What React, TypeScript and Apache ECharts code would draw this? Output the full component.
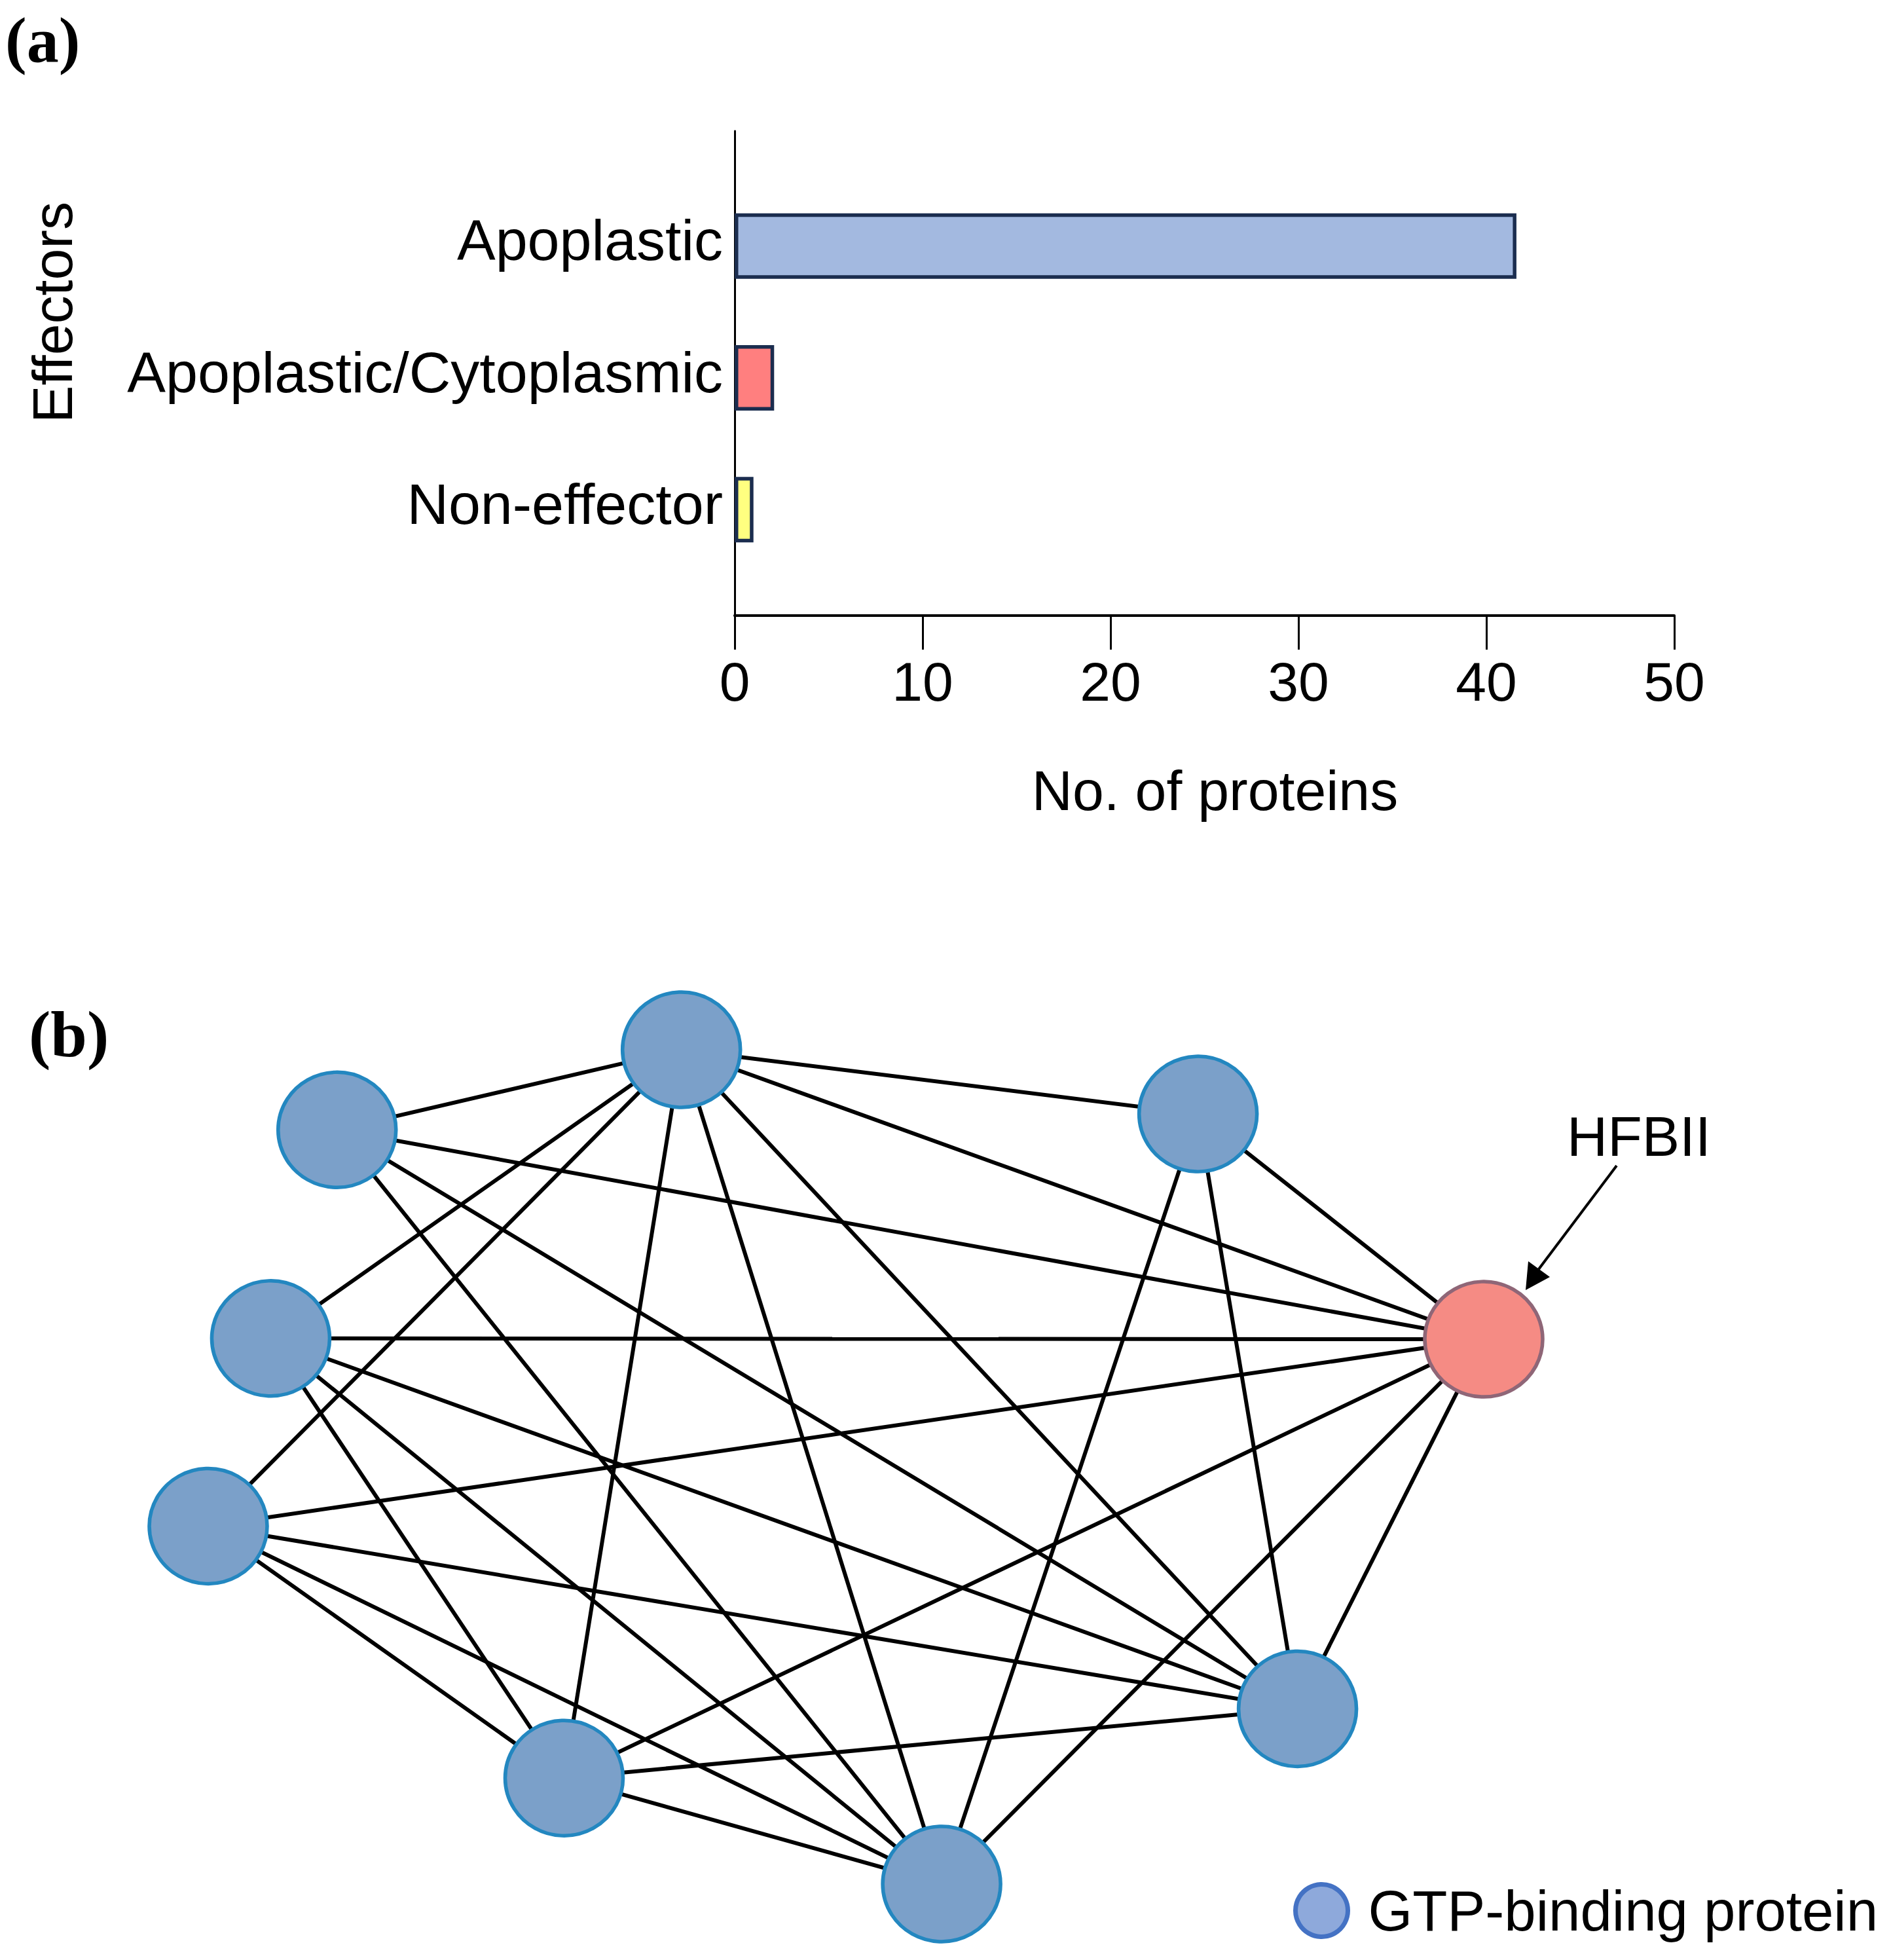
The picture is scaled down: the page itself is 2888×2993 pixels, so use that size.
import React, { useEffect, useRef } from "react";
import * as echarts from "echarts";

// ---------- Panel (a): bar chart data ----------
const categories = ["Apoplastic", "Apoplastic/Cytoplasmic", "Non-effector"];
const proteinCounts = [41.6, 2.1, 1];
const barColors = ["#A3B9E0", "#FF7F7F", "#FFFF80"];
const xAxisMin = 0;
const xAxisMax = 50;
const xAxisInterval = 10;

// ---------- Panel (b): network data ----------
const nodeNames = ["GTP1", "GTP2", "GTP3", "GTP4", "HFBII", "GTP5", "GTP6", "GTP7", "GTP8"];
const nodeX = [37.1, 10.1, 77.6, 4.9, 100, 0, 85.4, 27.9, 57.5];
const nodeY = [0, 9.6, 7.7, 34.6, 34.7, 57.1, 79.0, 87.3, 100];
const nodeCategory = [0, 0, 0, 0, 1, 0, 0, 0, 0];
const nodeCategories = ["GTP-binding protein", "HFBII"];
const edges: [string, string][] = [
  ["GTP1", "GTP2"], ["GTP1", "GTP3"], ["GTP1", "GTP4"], ["GTP1", "HFBII"],
  ["GTP1", "GTP5"], ["GTP1", "GTP6"], ["GTP1", "GTP7"], ["GTP1", "GTP8"],
  ["GTP2", "HFBII"], ["GTP2", "GTP6"], ["GTP2", "GTP8"],
  ["GTP3", "HFBII"], ["GTP3", "GTP6"], ["GTP3", "GTP8"],
  ["GTP4", "HFBII"], ["GTP4", "GTP6"], ["GTP4", "GTP7"], ["GTP4", "GTP8"],
  ["HFBII", "GTP5"], ["HFBII", "GTP6"], ["HFBII", "GTP7"], ["HFBII", "GTP8"],
  ["GTP5", "GTP6"], ["GTP5", "GTP7"], ["GTP5", "GTP8"],
  ["GTP6", "GTP7"], ["GTP7", "GTP8"],
];

const SANS = "'Liberation Sans', Arial, sans-serif";
const SERIF = "'Liberation Serif', 'Times New Roman', serif";

function buildOption(): any {
  const nodeData = nodeNames.map((name, i) => ({
    name,
    value: [nodeX[i], nodeY[i]],
    category: nodeCategory[i],
    itemStyle:
      nodeCategory[i] === 1
        ? { color: "#F58B84", borderColor: "#8F6677", borderWidth: 5.5 }
        : { color: "#7BA0C9", borderColor: "#2387C0", borderWidth: 5.5 },
  }));

  return {
    animation: false,
    backgroundColor: "#ffffff",
    textStyle: { fontFamily: SANS, color: "#000" },
    grid: [
      { left: 1122, top: 200, width: 1435, height: 740, containLabel: false },
      { left: 1122, top: 275, width: 1435, height: 604, containLabel: false },
      { left: 318, top: 1603, width: 1948, height: 1274, containLabel: false },
    ],
    xAxis: [
      {
        gridIndex: 0,
        type: "value",
        min: xAxisMin,
        max: xAxisMax,
        interval: xAxisInterval,
        name: "No. of proteins",
        nameLocation: "middle",
        nameGap: 224,
        nameTextStyle: { fontSize: 86, color: "#000", fontFamily: SANS, padding: [0, 0, 0, 32] },
        axisLine: { show: true, onZero: false, lineStyle: { color: "#000", width: 4 } },
        axisTick: { show: true, length: 52, lineStyle: { color: "#000", width: 3 } },
        axisLabel: { show: true, fontSize: 84, margin: 59, color: "#000", fontFamily: SANS },
        splitLine: { show: false },
      },
      { gridIndex: 1, type: "value", min: xAxisMin, max: xAxisMax, show: false },
      { gridIndex: 2, type: "value", min: 0, max: 100, show: false },
    ],
    yAxis: [
      {
        gridIndex: 0,
        type: "value",
        min: 0,
        max: 1,
        axisLine: { show: true, onZero: false, lineStyle: { color: "#000", width: 3 } },
        axisTick: { show: false },
        axisLabel: { show: false },
        splitLine: { show: false },
      },
      {
        gridIndex: 1,
        type: "category",
        inverse: true,
        data: categories,
        axisLine: { show: false },
        axisTick: { show: false },
        axisLabel: {
          show: true,
          fontSize: 88,
          margin: 18,
          color: "#000",
          fontFamily: SANS,
          verticalAlign: "bottom",
          lineHeight: 18,
        },
        splitLine: { show: false },
      },
      { gridIndex: 2, type: "value", min: 0, max: 100, inverse: true, show: false },
    ],
    legend: {
      show: true,
      left: 1975,
      top: 2874,
      padding: 0,
      orient: "horizontal",
      selectedMode: false,
      itemWidth: 80,
      itemHeight: 80,
      textStyle: { fontSize: 87, color: "#000", fontFamily: SANS, padding: [0, 0, 0, 26] },
      data: [
        {
          name: nodeCategories[0],
          icon: "circle",
          itemStyle: { color: "#8EA9DB", borderColor: "#4472C4", borderWidth: 7 },
        },
      ],
    },
    series: [
      {
        type: "bar",
        xAxisIndex: 1,
        yAxisIndex: 1,
        barWidth: 100,
        data: proteinCounts.map((v, i) => ({
          value: v,
          itemStyle: { color: barColors[i], borderColor: "#1B2D4F", borderWidth: 5.5 },
        })),
        emphasis: { disabled: true },
      },
      {
        type: "graph",
        coordinateSystem: "cartesian2d",
        xAxisIndex: 2,
        yAxisIndex: 2,
        layout: "none",
        symbol: "circle",
        symbolSize: [180, 176],
        categories: nodeCategories.map((name, i) => ({
          name,
          itemStyle: { color: i === 1 ? "#F58B84" : "#7BA0C9" },
        })),
        data: nodeData,
        links: edges.map(([s, t]) => ({ source: s, target: t })),
        lineStyle: { color: "#000", width: 6, opacity: 1, curveness: 0 },
        label: { show: false },
        emphasis: { disabled: true },
        z: 3,
      },
    ],
    graphic: [
      {
        type: "text",
        left: 8,
        top: 12,
        style: { text: "(a)", font: `bold 98px ${SERIF}`, fill: "#000" },
      },
      {
        type: "text",
        left: 44,
        top: 1529,
        style: { text: "(b)", font: `bold 100px ${SERIF}`, fill: "#000" },
      },
      {
        type: "text",
        x: 80,
        y: 477,
        rotation: Math.PI / 2,
        style: {
          text: "Effectors",
          font: `86px ${SANS}`,
          fill: "#000",
          align: "center",
          verticalAlign: "middle",
        },
      },
      {
        type: "text",
        x: 2503,
        y: 1735,
        style: {
          text: "HFBII",
          font: `86px ${SANS}`,
          fill: "#000",
          align: "center",
          verticalAlign: "middle",
        },
        z: 10,
      },
      {
        type: "line",
        shape: { x1: 2469, y1: 1780, x2: 2350, y2: 1938 },
        style: { stroke: "#000", lineWidth: 4 },
        z: 10,
      },
      {
        type: "polygon",
        shape: { points: [[2330, 1970], [2334, 1926], [2367, 1950]] },
        style: { fill: "#000" },
        z: 10,
      },
    ],
  };
}

export default function App() {
  const ref = useRef<HTMLDivElement>(null);
  useEffect(() => {
    document.body.style.margin = "0";
    if (!ref.current) return;
    const chart = echarts.init(ref.current, null, { renderer: "svg", width: 2888, height: 2993 });
    chart.setOption(buildOption());
    return () => {
      chart.dispose();
    };
  }, []);
  return <div ref={ref} style={{ width: 2888, height: 2993, background: "#fff" }} />;
}
